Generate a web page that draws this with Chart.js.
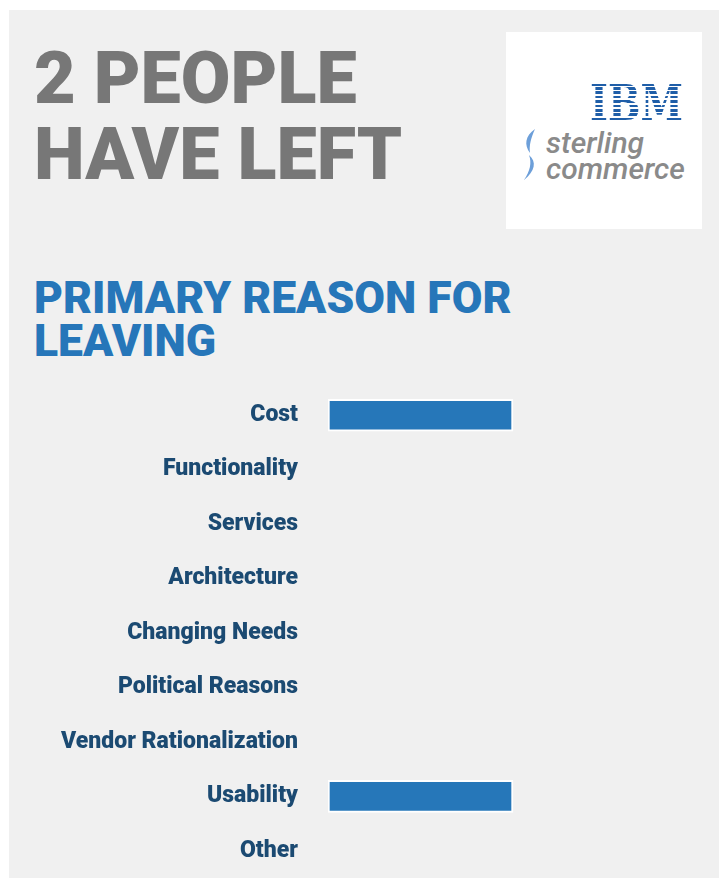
<!DOCTYPE html>
<html>
<head>
<meta charset="utf-8">
<script src="https://cdn.jsdelivr.net/npm/chart.js@4"></script>
<style>
  html, body { margin: 0; padding: 0; background: #ffffff; width: 719px; height: 878px; overflow: hidden; }
  #panel { position: absolute; left: 9px; top: 10px; width: 710px; height: 868px; background: #f0f0f0; }
  #title { position: absolute; left: 34px; top: 41px; font-family: Roboto, "DejaVu Sans", sans-serif; font-weight: 900;
           font-size: 72px; line-height: 76px; color: #777777; white-space: nowrap; }
  #subtitle { position: absolute; left: 34px; top: 277px; font-family: Roboto, "DejaVu Sans", sans-serif; font-weight: 900;
              font-size: 44.5px; line-height: 43px; color: #2676b9; white-space: nowrap; }
  #logo { position: absolute; left: 506px; top: 32px; width: 196px; height: 197px; background: #ffffff; }
  #ibm { position: absolute; left: 84px; top: 47px; font-family: "DejaVu Serif", serif; font-weight: bold; font-size: 48px;
         line-height: 48px; color: transparent; transform-origin: 0 0; transform: scaleX(0.8);
         background: repeating-linear-gradient(to bottom, #1f5ea8 0px, #1f5ea8 2.6px, transparent 2.6px, transparent 4.4px);
         background-position: 0 8px;
         -webkit-background-clip: text; background-clip: text; }
  #sc { position: absolute; left: 40px; top: 98px; font-family: Roboto, "Open Sans", sans-serif; font-style: italic; font-weight: 500;
        font-size: 30px; line-height: 26px; color: #8a8a8a; white-space: nowrap; }
  #swoosh { position: absolute; left: 16px; top: 97px; }
  #chartWrap { position: absolute; left: 0px; top: 388px; width: 719px; height: 490px; }
</style>
</head>
<body>
<div id="panel"></div>
<div id="title"></div>
<div id="subtitle"></div>
<div id="logo">
  <div id="ibm">IBM</div>
  <svg id="swoosh" width="18" height="52" viewBox="0 0 18 52">
    <path d="M13 0 C3 7 2 16 8 24 C7 16 9 9 13 0 Z" fill="#6d9fd9"/>
    <path d="M7 26 C15 33 13 42 2 51 C8 42 10 34 7 26 Z" fill="#6d9fd9"/>
  </svg>
  <div id="sc"></div>
</div>
<div id="chartWrap"><canvas id="c"></canvas></div>
<script>
const titleLines = ["2 PEOPLE", "HAVE LEFT"];
const subtitleLines = ["PRIMARY REASON FOR", "LEAVING"];
const logoLines = ["sterling", "commerce"];
const categories = ["Cost", "Functionality", "Services", "Architecture", "Changing Needs",
                    "Political Reasons", "Vendor Rationalization", "Usability", "Other"];
const peopleLeft = [1, 0, 0, 0, 0, 0, 0, 1, 0];
const axisMax = 2;

document.getElementById('title').innerHTML = titleLines.join('<br>');
document.getElementById('subtitle').innerHTML = subtitleLines.join('<br>');
document.getElementById('sc').innerHTML = logoLines.join('<br>');

Chart.defaults.devicePixelRatio = 1;
new Chart(document.getElementById('c'), {
  type: 'bar',
  data: {
    labels: categories,
    datasets: [{
      data: peopleLeft,
      backgroundColor: '#2677b9',
      borderColor: '#ffffff',
      borderWidth: 2,
      borderSkipped: false,
      barThickness: 32
    }]
  },
  options: {
    indexAxis: 'y',
    responsive: true,
    maintainAspectRatio: false,
    animation: false,
    layout: { padding: { left: 0, right: 21, top: 0, bottom: 0 } },
    plugins: { legend: { display: false }, tooltip: { enabled: false } },
    scales: {
      x: { display: false, min: 0, max: axisMax },
      y: {
        grid: { display: false, drawTicks: false },
        border: { display: false },
        afterFit: (s) => { s.width = 328; s.paddingTop = 0; s.paddingBottom = 0; },
        ticks: {
          padding: 30,
          color: '#1b4a72',
          font: { family: 'Roboto, "DejaVu Sans", sans-serif', weight: '900', size: 23 }
        }
      }
    }
  }
});
</script>
</body>
</html>
